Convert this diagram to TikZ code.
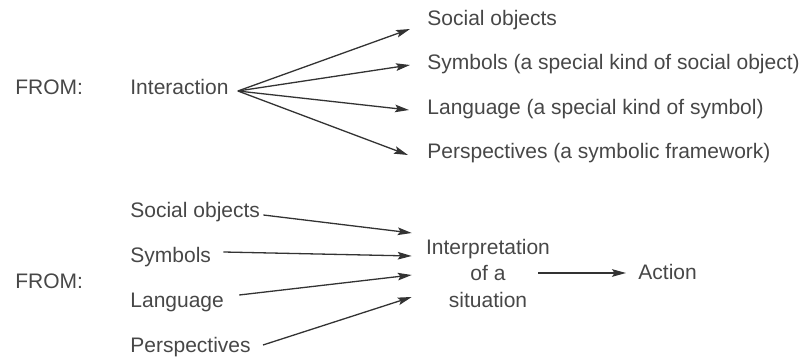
\documentclass[tikz,border=0pt]{standalone}
\usepackage{fontspec}
\setmainfont{Liberation Sans}
\usetikzlibrary{arrows.meta}

\begin{document}
\begin{tikzpicture}[x=0.5pt,y=-0.5pt,
  lbl/.style={anchor=base west,inner sep=0pt,text=black!72,font=\fontsize{10.5}{13.25}\selectfont},
  link/.style={draw=black!80,line width=0.65pt,-{Stealth[length=7pt,width=3.8pt,inset=1.3pt]}}]
\useasboundingbox (0,0) rectangle (802,362);

% Interaction fans out
\node[lbl] (from1) at (15,95) {FROM:};
\node[lbl] (inter) at (130,95) {Interaction};
\node[lbl] (obj1) at (427,26) {Social objects};
\node[lbl] (sym1) at (427,70) {Symbols (a special kind of social object)};
\node[lbl] (lang1) at (427,115) {Language (a special kind of symbol)};
\node[lbl] (persp1) at (427,159) {Perspectives (a symbolic framework)};
\foreach \n/\dx/\dy in {obj1/-17/3,sym1/-17/-5,lang1/-18/-5,persp1/-19/-4}
  \draw[link] ([shift={(9,-4)}]inter.base east) -- ([shift={(\dx,\dy)}]\n.base west);

% the four feed into interpretation
\node[lbl] (from2) at (15,289) {FROM:};
\node[lbl] (obj2) at (130,218) {Social objects};
\node[lbl] (sym2) at (130,263) {Symbols};
\node[lbl] (lang2) at (130,308) {Language};
\node[lbl] (persp2) at (130,353) {Perspectives};
\node[lbl,anchor=center,align=center] (interp) at (488,273) {Interpretation\\of a\\situation};
\node[lbl] (act) at (638,280) {Action};
\foreach \n/\sx/\sy/\ty in {obj2/3/-3/-40,sym2/12/-11/-17,lang2/15/-13/2,persp2/12/-8/24}
  \draw[link] ([shift={(\sx,\sy)}]\n.base east) -- ([shift={(-14,\ty)}]interp.west);
\draw[link] ([shift={(-12,0)}]interp.east) -- ([shift={(-12,-7)}]act.base west);
\end{tikzpicture}
\end{document}
